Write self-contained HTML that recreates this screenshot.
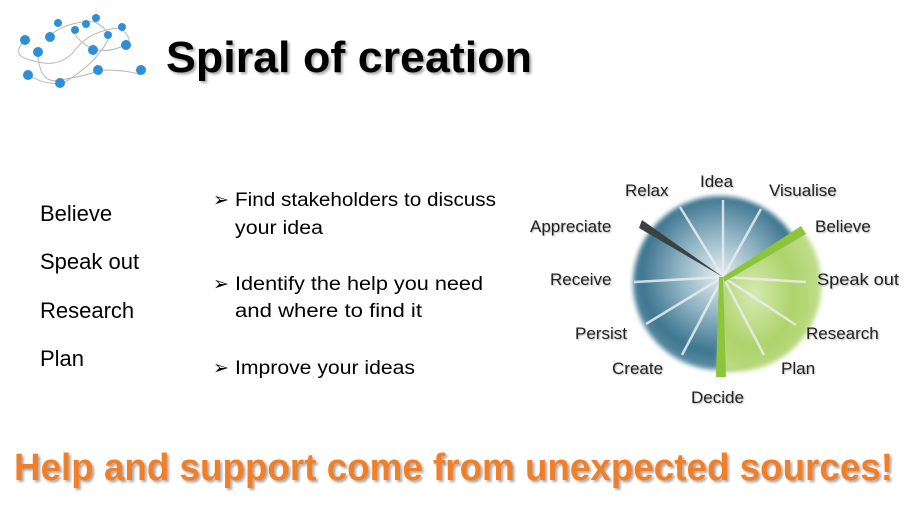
<!DOCTYPE html>
<html><head><style>
html,body{margin:0;padding:0;background:#fff;}
body{width:914px;height:527px;overflow:hidden;}
svg text{font-family:"Liberation Sans",sans-serif;}
</style></head><body>
<svg width="914" height="527" viewBox="0 0 914 527" xmlns="http://www.w3.org/2000/svg">
<defs>
<filter id="sh" x="-5%" y="-20%" width="110%" height="140%"><feDropShadow dx="2" dy="2" stdDeviation="1.2" flood-color="#000" flood-opacity="0.35"/></filter>
<filter id="sh2"><feDropShadow dx="1" dy="1" stdDeviation="0.8" flood-color="#000" flood-opacity="0.3"/></filter>
<radialGradient id="blue" cx="50%" cy="45%" r="60%">
<stop offset="0" stop-color="#e4ecf0"/><stop offset="0.4" stop-color="#8fb3c3"/><stop offset="0.75" stop-color="#3d7690"/><stop offset="1" stop-color="#6f9aae"/></radialGradient>
<radialGradient id="green" cx="35%" cy="45%" r="75%">
<stop offset="0" stop-color="#d7eab2"/><stop offset="0.5" stop-color="#aed36a"/><stop offset="1" stop-color="#c6e196"/></radialGradient>
<filter id="blur"><feGaussianBlur stdDeviation="2.5"/></filter>
</defs>
<g stroke="#b8b8b8" fill="none" stroke-width="1">
<path d="M25 40 Q10 55 30 60 Q60 70 75 50 Q90 30 120 28 Q135 40 125 45"/>
<path d="M38 55 Q40 85 60 80 Q90 75 100 70 Q130 70 140 75"/>
<path d="M50 35 Q70 20 95 22 Q110 30 108 40 Q95 65 60 85"/>
<path d="M75 35 Q95 60 125 45"/>
<path d="M28 75 Q45 85 60 83"/>
</g>
<g fill="#2f8fd6">
<circle cx="25" cy="40" r="5"/><circle cx="58" cy="23" r="4"/><circle cx="50" cy="37" r="5"/><circle cx="75" cy="30" r="4"/><circle cx="86" cy="24" r="4"/><circle cx="96" cy="18" r="4"/><circle cx="122" cy="27" r="4"/><circle cx="108" cy="35" r="4"/><circle cx="38" cy="52" r="5"/><circle cx="93" cy="50" r="5"/><circle cx="126" cy="45" r="5"/><circle cx="28" cy="75" r="5"/><circle cx="60" cy="83" r="5"/><circle cx="98" cy="70" r="5"/><circle cx="141" cy="70" r="5"/>
</g>
<text x="166" y="72" font-size="44" font-weight="bold" fill="#000" textLength="366" lengthAdjust="spacingAndGlyphs" filter="url(#sh)">Spiral of creation</text>
<g font-size="22" fill="#000">
<text x="40" y="221">Believe</text>
<text x="40" y="269">Speak out</text>
<text x="40" y="318">Research</text>
<text x="40" y="366">Plan</text>
</g>
<g font-size="19" fill="#000">
<text x="213" y="206">➢</text><text x="235" y="206" textLength="261" lengthAdjust="spacingAndGlyphs">Find stakeholders to discuss</text>
<text x="235" y="234" textLength="88" lengthAdjust="spacingAndGlyphs">your idea</text>
<text x="213" y="290">➢</text><text x="235" y="290" textLength="248" lengthAdjust="spacingAndGlyphs">Identify the help you need</text>
<text x="235" y="317" textLength="187" lengthAdjust="spacingAndGlyphs">and where to find it</text>
<text x="213" y="374">➢</text><text x="235" y="374" textLength="180" lengthAdjust="spacingAndGlyphs">Improve your ideas</text>
</g>
<circle cx="720" cy="283" r="87" fill="url(#blue)" filter="url(#blur)"/>
<path d="M723 277 L803 231 A87 87 0 0 1 718 370 Z" fill="url(#green)" filter="url(#blur)"/>
<g stroke="#e8eef0" stroke-width="2.5" opacity="0.85">
<line x1="723" y1="277" x2="723" y2="200"/>
<line x1="723" y1="277" x2="680" y2="207"/>
<line x1="723" y1="277" x2="761" y2="209"/>
<line x1="723" y1="277" x2="634" y2="282"/>
<line x1="723" y1="277" x2="646" y2="324"/>
<line x1="723" y1="277" x2="682" y2="355"/>
<line x1="723" y1="277" x2="806" y2="282"/>
<line x1="723" y1="277" x2="796" y2="325"/>
<line x1="723" y1="277" x2="764" y2="355"/>
</g>
<polygon points="723,277 639,228 642,220" fill="#3a4242"/>
<polygon points="723,277 801,226 806,234 724,282" fill="#8cc43c"/>
<polygon points="723,277 726,377 716,377 719,277" fill="#8cc43c"/>
<g font-size="17" fill="#222" filter="url(#sh2)">
<text x="625" y="196">Relax</text>
<text x="700" y="187">Idea</text>
<text x="769" y="196">Visualise</text>
<text x="530" y="232">Appreciate</text>
<text x="815" y="232">Believe</text>
<text x="550" y="285">Receive</text>
<text x="817" y="285" textLength="82" lengthAdjust="spacingAndGlyphs">Speak out</text>
<text x="806" y="339">Research</text>
<text x="575" y="339">Persist</text>
<text x="612" y="374">Create</text>
<text x="781" y="374">Plan</text>
<text x="691" y="403">Decide</text>
</g>
<text x="14" y="480" font-size="38" font-weight="bold" fill="#f07f2c" textLength="879" lengthAdjust="spacingAndGlyphs" filter="url(#sh)">Help and support come from unexpected sources!</text>
</svg>
</body></html>
